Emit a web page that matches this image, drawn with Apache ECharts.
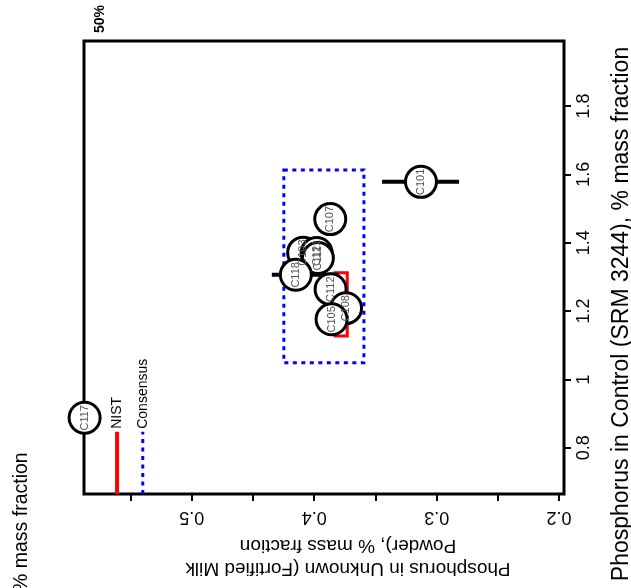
<!DOCTYPE html>
<html>
<head>
<meta charset="utf-8">
<script src="https://cdn.jsdelivr.net/npm/echarts@6/dist/echarts.min.js"></script>
<style>html,body{margin:0;padding:0;background:#fff}#c{width:631px;height:588px}</style>
</head>
<body>
<div id="c"></div>
<script>
// ---- data ----
const labIds = ['C117','C101','C107','C103','C121','C111','C118','C112','C108','C105'];
const unknownVals = [0.5875, 0.3128, 0.3869, 0.409, 0.398, 0.397, 0.415, 0.3866, 0.374, 0.3858];
const controlVals = [0.888, 1.578, 1.469, 1.371, 1.370, 1.355, 1.306, 1.264, 1.2085, 1.176];
// horizontal error bars (unknown direction)
const errLow = [0.2817, 0.3800];
const errHigh = [0.3446, 0.4346];
const errControl = [1.578, 1.306];
// NIST value box and consensus box: [unknownLow, unknownHigh, controlLow, controlHigh]
const nistBox = [0.373, 0.383, 1.127, 1.312];
const consensusBox = [0.3594, 0.4248, 1.049, 1.613];
// legend marks at the margin
const legendNames = ['NIST', 'Consensus'];
const legendUnknown = [0.561, 0.540];
const legendTop = 0.847;
// axes
const unknownTicks = [0.2, 0.25, 0.3, 0.35, 0.4, 0.45, 0.5, 0.55];
const unknownLabels = [0.2, 0.3, 0.4, 0.5];
const controlTicks = [0.8, 1.0, 1.2, 1.4, 1.6, 1.8];
const unknownRange = [0.196, 0.588];
const controlRange = [0.665, 1.99];
const unknownTitle = 'Phosphorus in Unknown (Fortified Milk\nPowder), % mass fraction';
const controlTitle = 'Phosphorus in Control (SRM 3244), % mass fraction';

const FONT = 'Liberation Sans, Arial, sans-serif';
const chart = echarts.init(document.getElementById('c'), null, {renderer: 'canvas'});

const boxData = [
  nistBox.concat(['#ff0000', 'solid']),
  consensusBox.concat(['#0000ff', 'dotted'])
];
const legendData = legendNames.map((n, i) => [legendUnknown[i], controlRange[0], legendTop, n, i === 0 ? '#ff0000' : '#0000ff']);
const errData = errLow.map((v, i) => [v, errHigh[i], errControl[i]]);
const ptData = labIds.map((id, i) => [unknownVals[i], controlVals[i], id]);

chart.setOption({
  animation: false,
  backgroundColor: '#fff',
  grid: {left: 84, right: 67, top: 41, bottom: 94, show: true, borderColor: '#000', borderWidth: 3,
    containLabel: false, outerBoundsMode: 'none'},
  xAxis: {
    type: 'value', inverse: true, min: unknownRange[0], max: unknownRange[1], position: 'bottom',
    axisLine: {show: false}, splitLine: {show: false},
    axisTick: {show: true, customValues: unknownTicks, length: 7, lineStyle: {color: '#000', width: 2}},
    axisLabel: {customValues: unknownLabels, rotate: 180, fontSize: 18, color: '#000', fontFamily: FONT, margin: 14,
      formatter: v => v.toFixed(1)}
  },
  yAxis: {
    type: 'value', min: controlRange[0], max: controlRange[1], position: 'right',
    axisLine: {show: false}, splitLine: {show: false},
    axisTick: {show: true, customValues: controlTicks, length: 7, lineStyle: {color: '#000', width: 2}},
    axisLabel: {customValues: controlTicks, rotate: 90, fontSize: 18, color: '#000', fontFamily: FONT, margin: 11,
      formatter: v => (Math.abs(v - 1) < 1e-9 ? '1' : v.toFixed(1))}
  },
  graphic: [
    {type: 'text', x: 100, y: 33, rotation: Math.PI / 2, style: {text: '50%', fontSize: 14, fontWeight: 'bold', fill: '#000', fontFamily: FONT, align: 'left', verticalAlign: 'middle'}},
    {type: 'text', x: 22, y: 591, rotation: Math.PI / 2, style: {text: '% mass fraction', fontSize: 19.5, fill: '#000', fontFamily: FONT, align: 'left', verticalAlign: 'middle'}},
    {type: 'text', x: 348, y: 557, rotation: Math.PI, style: {text: unknownTitle, fontSize: 19, lineHeight: 23, fill: '#000', fontFamily: FONT, align: 'center', verticalAlign: 'middle'}},
    {type: 'text', x: 622, y: 314, rotation: Math.PI / 2, style: {text: controlTitle, fontSize: 23, fill: '#000', fontFamily: FONT, align: 'center', verticalAlign: 'middle'}}
  ],
  series: [
    {
      type: 'custom', clip: false, z: 2,
      data: boxData,
      renderItem: (params, api) => {
        const p1 = api.coord([api.value(0), api.value(3)]);
        const p2 = api.coord([api.value(1), api.value(2)]);
        const x = Math.min(p1[0], p2[0]), y = Math.min(p1[1], p2[1]);
        const dotted = boxData[params.dataIndex][5] === 'dotted';
        return {type: 'rect', shape: {x, y, width: Math.abs(p2[0] - p1[0]), height: Math.abs(p2[1] - p1[1])},
          style: {fill: 'none', stroke: boxData[params.dataIndex][4], lineWidth: 3, lineDash: dotted ? [4, 4.5] : null}};
      }
    },
    {
      type: 'custom', clip: false, z: 2,
      data: legendData,
      renderItem: (params, api) => {
        const d = legendData[params.dataIndex];
        const pb = api.coord([d[0], d[1]]);
        const pt = api.coord([d[0], d[2]]);
        const isNist = params.dataIndex === 0;
        return {type: 'group', children: [
          {type: 'line', shape: {x1: pb[0], y1: pb[1], x2: pt[0], y2: pt[1]},
            style: {stroke: d[4], lineWidth: isNist ? 4 : 3, lineDash: isNist ? null : [4, 4.5]}},
          {type: 'text', x: pt[0], y: pt[1] - 3, rotation: Math.PI / 2,
            style: {text: d[3], fontSize: 14, fill: '#000', fontFamily: FONT, align: 'left', verticalAlign: 'middle'}}
        ]};
      }
    },
    {
      type: 'custom', clip: false, z: 3,
      data: errData,
      renderItem: (params, api) => {
        const a = api.coord([api.value(0), api.value(2)]);
        const b = api.coord([api.value(1), api.value(2)]);
        return {type: 'line', shape: {x1: a[0], y1: a[1], x2: b[0], y2: b[1]}, style: {stroke: '#000', lineWidth: 4}};
      }
    },
    {
      type: 'scatter', clip: false, z: 4,
      data: ptData,
      symbol: 'circle', symbolSize: 31,
      itemStyle: {color: '#fff', borderColor: '#000', borderWidth: 3, opacity: 1},
      label: {show: true, position: 'inside', rotate: 90, formatter: p => p.data[2], fontSize: 11, color: '#555', fontFamily: FONT},
      emphasis: {disabled: true}
    }
  ]
});
</script>
</body>
</html>
